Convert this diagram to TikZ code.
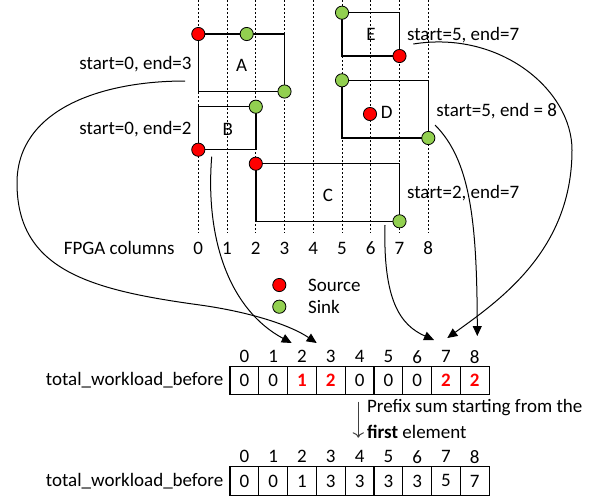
\documentclass[tikz,border=0pt]{standalone}
\usepackage{fontspec}
\setmainfont{Carlito}
\usetikzlibrary{arrows.meta}
\definecolor{srcred}{HTML}{FF0000}
\definecolor{snkgreen}{HTML}{92D050}
\tikzset{
  colline/.style={line width=0.45pt, dash pattern=on 1pt off 1pt},
  task/.style={line width=0.7pt},
  flow/.style={line width=0.5pt, -{Triangle[length=5pt,width=4.5pt]}},
  cell/.style={draw, line width=0.55pt, minimum width=14.4pt, minimum height=14.15pt, inner sep=0pt, outer sep=0pt},
  hotcell/.style={cell, text=srcred, font=\bfseries},
}
\begin{document}
\fontsize{9.5}{11}\selectfont
\begin{tikzpicture}[x=0.5pt, y=-0.5pt]
\useasboundingbox (0,0) rectangle (594,500);
% FPGA columns
\foreach \c in {0,...,8} {
    \draw[colline] (198.3+28.75*\c,0) -- (198.3+28.75*\c,233);
    \node (col\c) at (198.3+28.75*\c,248) {\c};
}
\node[anchor=east] (collab) at (181.3,248) {FPGA columns};
% tasks
\draw[task] (198.3,34) rectangle (284.5,91.5);
\node (tA) at (241.7,65) {A};
\draw[task] (198.3,106.7) rectangle (255.8,149.7);
\node (tB) at (227.7,129) {B};
\draw[task] (255.8,163.7) rectangle (399.5,221.3);
\node (tC) at (328,195) {C};
\draw[task] (342,80.3) rectangle (428.3,138);
\node (tD) at (386.7,112) {D};
\draw[task] (342,12.7) rectangle (399.5,56);
\node (tE) at (371,34) {E};
% sources and sinks
\draw[fill=srcred]   (198.3,34)    circle (3.3pt);
\draw[fill=snkgreen] (246.7,34)    circle (3.3pt);
\draw[fill=snkgreen] (284.5,91.5)  circle (3.3pt);
\draw[fill=snkgreen] (255.8,106.7) circle (3.3pt);
\draw[fill=srcred]   (198.3,149.7) circle (3.3pt);
\draw[fill=srcred]   (255.8,163.7) circle (3.3pt);
\draw[fill=snkgreen] (399.5,221.3) circle (3.3pt);
\draw[fill=snkgreen] (342,80.3)    circle (3.3pt);
\draw[fill=srcred]   (370,114)     circle (3.3pt);
\draw[fill=snkgreen] (428.3,138)   circle (3.3pt);
\draw[fill=snkgreen] (342,12.7)    circle (3.3pt);
\draw[fill=srcred]   (399.5,56)    circle (3.3pt);
% ranges
\node[anchor=east] (rA) at (198.3,64)    {start=0, end=3};
\node[anchor=east] (rB) at (198.3,129)   {start=0, end=2};
\node[anchor=west] (rE) at (400.4,35)    {start=5, end=7};
\node[anchor=west] (rD) at (429.7,110.7) {start=5, end = 8};
\node[anchor=west] (rC) at (400.4,193.3) {start=2, end=7};
% legend
\draw[fill=srcred]   (279.3,285)   circle (3.3pt);
\draw[fill=snkgreen] (279.3,306.7) circle (3.3pt);
\node[anchor=west] (srclab) at (301.4,285)   {Source};
\node[anchor=west] (snklab) at (301.4,306.7) {Sink};
% workload before prefix sum
\foreach \i/\v/\st in {0/0/cell,1/0/cell,2/1/hotcell,3/2/hotcell,4/0/cell,5/0/cell,6/0/cell,7/2/hotcell,8/2/hotcell} {
    \node[\st] (tw\i) at (244.4+28.8*\i,380.2) {\v};
    \node (ti\i) at (244.4+28.8*\i,356.7) {\i};
}
\node[anchor=east] (twlab) at (tw0.west) {total\_workload\_before};
% workload after prefix sum
\foreach \i/\v in {0/0,1/0,2/1,3/3,4/3,5/3,6/3,7/5,8/7} {
    \node[cell] (bw\i) at (244.4+28.8*\i,480.9) {\v};
    \node (bi\i) at (244.4+28.8*\i,456.7) {\i};
}
\node[anchor=east] (bwlab) at (bw0.west) {total\_workload\_before};
% prefix sum
\coordinate (pfxtop) at (358.3,401.7);
\coordinate (pfxbot) at (358.3,437.7);
\draw[->, black!75, line width=0.5pt] (pfxtop) -- (pfxbot);
\node[anchor=west] (pfx1) at (360.4,408)   {Prefix sum starting from the};
\node[anchor=west] (pfx2) at (360.4,432.3) {\textbf{first} element};
% curves to the workload array
\coordinate (aout) at (185,81);
\coordinate (ain)  at (316.7,343);
\coordinate (bout) at (211.7,156.7);
\coordinate (bin)  at (291.7,343);
\coordinate (cout) at (385,225);
\coordinate (cin)  at (434,340);
\coordinate (dout) at (435,125);
\coordinate (din)  at (477.3,336);
\coordinate (eout) at (413.3,44);
\coordinate (ein)  at (447.3,338);
\draw[flow] (aout) .. controls (100,81) and (17,110) .. (17,183)
    .. controls (17,270) and (90,290) .. (200,305)
    .. controls (250,312) and (290,325) .. (ain);
\draw[flow] (bout) .. controls (205,240) and (230,310) .. (bin);
\draw[flow] (cout) .. controls (383,300) and (400,325) .. (cin);
\draw[flow] (dout) .. controls (470,160) and (477,220) .. (din);
\draw[flow] (eout) .. controls (500,30) and (572,90) .. (572,150)
    .. controls (572,250) and (500,300) .. (ein);
\end{tikzpicture}
\end{document}
